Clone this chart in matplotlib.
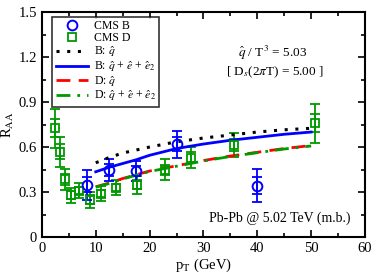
import numpy as np
import matplotlib
matplotlib.use("Agg")
import matplotlib.pyplot as plt

plt.rcParams['font.family'] = ['Liberation Serif', 'DejaVu Serif']
plt.rcParams['mathtext.fontset'] = 'stix'

# CMS B data
b_pt = [8.4, 12.4, 17.5, 25.0, 39.9]
b_raa = [0.347, 0.447, 0.44, 0.62, 0.342]
b_err_tot = [0.10, 0.075, 0.065, 0.09, 0.11]
b_err_in = [0.05, 0.04, 0.035, 0.045, 0.055]

# CMS D data
d_pt = [2.4, 3.4, 4.3, 5.45, 6.9, 9.0, 11.0, 13.75, 17.6, 22.9, 27.7, 35.6, 50.7]
d_raa = [0.725, 0.569, 0.385, 0.28, 0.31, 0.247, 0.29, 0.33, 0.35, 0.447, 0.53, 0.613, 0.758]
d_err_tot = [0.13, 0.10, 0.07, 0.05, 0.05, 0.055, 0.05, 0.05, 0.06, 0.07, 0.07, 0.08, 0.13]
d_err_in = [0.06, 0.05, 0.035, 0.025, 0.025, 0.03, 0.025, 0.025, 0.03, 0.035, 0.035, 0.04, 0.06]

# model curves
m_pt = [10, 12.5, 15, 17.5, 20, 25, 30, 35, 40, 45, 50]
b_qhat = [0.495, 0.53, 0.56, 0.58, 0.60, 0.635, 0.66, 0.68, 0.70, 0.715, 0.725]
b_full = [0.435, 0.465, 0.49, 0.515, 0.545, 0.59, 0.62, 0.645, 0.665, 0.685, 0.70]
d_qhat = [0.335, 0.36, 0.39, 0.415, 0.44, 0.475, 0.51, 0.54, 0.565, 0.59, 0.61]
d_full = [0.332, 0.357, 0.387, 0.412, 0.437, 0.472, 0.507, 0.537, 0.562, 0.587, 0.607]

fig = plt.figure(figsize=(3.74, 2.74), dpi=100)
ax = fig.add_axes([0.112, 0.135, 0.864, 0.821])

blue = '#0000ff'
green = '#009900'

ax.errorbar(d_pt, d_raa, yerr=d_err_tot, fmt='none', ecolor=green, elinewidth=1.3, capsize=3.5, capthick=1.3)
ax.errorbar(d_pt, d_raa, yerr=d_err_in, fmt='none', ecolor=green, elinewidth=1.3, capsize=3.5, capthick=1.3)
ax.plot(d_pt, d_raa, 's', mfc='none', mec=green, mew=1.3, ms=6, label='CMS D', zorder=3)

ax.errorbar(b_pt, b_raa, yerr=b_err_tot, fmt='none', ecolor=blue, elinewidth=1.3, capsize=3.5, capthick=1.3)
ax.errorbar(b_pt, b_raa, yerr=b_err_in, fmt='none', ecolor=blue, elinewidth=1.3, capsize=3.5, capthick=1.3)
ax.plot(b_pt, b_raa, 'o', mfc='none', mec=blue, mew=1.4, ms=7, label='CMS B', zorder=3)

ax.plot(m_pt, b_qhat, color='black', ls=(0, (1, 2.5)), lw=2.2, label=r'B: $\hat{q}$')
ax.plot(m_pt, b_full, color=blue, ls='-', lw=2, label=r'B: $\hat{q}$ + $\hat{e}$ + $\hat{e}_2$')
ax.plot(m_pt, d_qhat, color='red', ls=(0, (5, 3)), lw=2, label=r'D: $\hat{q}$')
ax.plot(m_pt, d_full, color=green, ls=(0, (5, 2.5, 1, 2.5)), lw=2, label=r'D: $\hat{q}$ + $\hat{e}$ + $\hat{e}_2$')

handles, labels = ax.get_legend_handles_labels()
order = [1, 0, 2, 3, 4, 5]
leg = ax.legend([handles[i] for i in order], [labels[i] for i in order],
                loc='upper left', bbox_to_anchor=(0.025, 0.99), fontsize=8.5,
                frameon=True, fancybox=False, edgecolor='black', handlelength=2.7,
                labelspacing=0.02, borderpad=0.3, handletextpad=0.5, borderaxespad=0.2)
leg.get_frame().set_linewidth(1.2)

ax.text(0.715, 0.80, r'$\hat{q}$ / T$^3$ = 5.03', transform=ax.transAxes, ha='center', fontsize=9.5)
ax.text(0.72, 0.72, r'[ D$_s$(2$\pi$T) = 5.00 ]', transform=ax.transAxes, ha='center', fontsize=9.5)
ax.text(0.954, 0.067, 'Pb-Pb @ 5.02 TeV (m.b.)', transform=ax.transAxes, ha='right', fontsize=10)

ax.set_xlim(0, 60)
ax.set_ylim(0, 1.5)
ax.set_xticks([0, 10, 20, 30, 40, 50, 60])
ax.set_xticks(np.arange(5, 60, 10), minor=True)
ax.set_yticks([0, 0.3, 0.6, 0.9, 1.2, 1.5])
ax.set_yticklabels(['0', '0.3', '0.6', '0.9', '1.2', '1.5'])
ax.set_yticks(np.arange(0.15, 1.5, 0.3), minor=True)
ax.tick_params(which='both', direction='in', top=True, right=True, labelsize=10.5, width=1.2)
ax.tick_params(which='major', length=5)
ax.tick_params(which='minor', length=3)
for s in ax.spines.values():
    s.set_linewidth(1.5)

ax.set_xlabel(r'p$_\mathrm{T}$ (GeV)', fontsize=10.5, labelpad=1)
ax.set_ylabel(r'R$_\mathrm{AA}$', fontsize=10.5, labelpad=2)

fig.savefig('out.png', dpi=100)
